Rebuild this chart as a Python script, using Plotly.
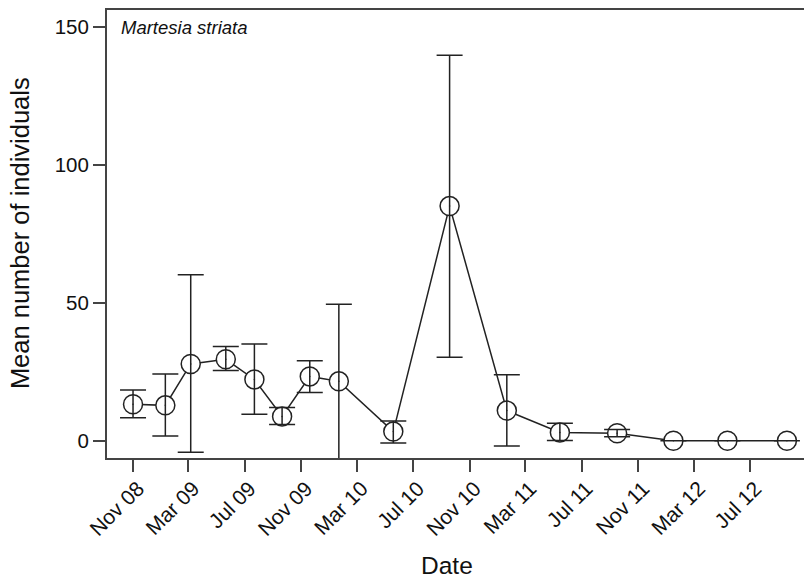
import plotly.graph_objects as go

dates = ["2008-11-01", "2009-01-10", "2009-03-06", "2009-05-21", "2009-07-22",
         "2009-09-20", "2009-11-19", "2010-01-21", "2010-05-19", "2010-09-18",
         "2011-01-20", "2011-05-15", "2011-09-16", "2012-01-16", "2012-05-12",
         "2012-09-18"]
means = [13.2, 12.8, 27.8, 29.5, 22.2, 8.8, 23.3, 21.5, 3.3, 85.0,
         10.9, 3.0, 2.7, 0.0, 0.0, 0.0]
upper = [18.4, 24.2, 60.1, 34.1, 35.0, 12.0, 29.0, 49.4, 7.1, 139.7,
         23.9, 6.3, 4.1, 0.0, 0.0, 0.0]
lower = [8.3, 1.7, -4.2, 25.4, 9.6, 5.9, 17.5, -9.0, -0.8, 30.2,
         -1.9, 0.1, 1.4, 0.0, 0.0, 0.0]

tick_dates = ["2008-11-01", "2009-03-01", "2009-07-01", "2009-11-01", "2010-03-01",
              "2010-07-01", "2010-11-01", "2011-03-01", "2011-07-01", "2011-11-01",
              "2012-03-01", "2012-07-01"]
tick_labels = ["Nov 08", "Mar 09", "Jul 09", "Nov 09", "Mar 10", "Jul 10",
               "Nov 10", "Mar 11", "Jul 11", "Nov 11", "Mar 12", "Jul 12"]

err_plus = [u - m for u, m in zip(upper, means)]
err_minus = [m - l for m, l in zip(means, lower)]

ink = "#222222"
font = "Liberation Sans, Arial, Helvetica, sans-serif"

fig = go.Figure()
# line + white-filled open circles
fig.add_trace(go.Scatter(
    x=dates, y=means, mode="lines+markers",
    line=dict(color=ink, width=1.5),
    marker=dict(symbol="circle", size=19, color="white",
                line=dict(color=ink, width=1.5)),
    showlegend=False, hoverinfo="skip"))
# error bars on top
fig.add_trace(go.Scatter(
    x=dates, y=means, mode="markers",
    marker=dict(size=1.5, color=ink, opacity=1),
    error_y=dict(type="data", symmetric=False, array=err_plus,
                 arrayminus=err_minus, color=ink, thickness=1.5, width=13),
    showlegend=False, hoverinfo="skip"))

fig.add_annotation(text="<i>Martesia striata</i>", xref="paper", yref="paper",
                   x=0.017, y=0.988, xanchor="left", yanchor="top",
                   showarrow=False, font=dict(family=font, size=18.5, color="#111"))
fig.add_annotation(text="Date", xref="paper", yref="paper",
                   x=0.4878, y=-0.241, xanchor="center", yanchor="middle",
                   showarrow=False, font=dict(family=font, size=24.5, color="#111"))
fig.add_annotation(text="Mean number of individuals", xref="paper", yref="paper",
                   x=-0.1248, y=0.502, xanchor="center", yanchor="middle",
                   textangle=-90,
                   showarrow=False, font=dict(family=font, size=25.5, color="#111"))

fig.update_layout(
    width=804, height=579,
    margin=dict(l=107, r=0, t=10, b=121),
    paper_bgcolor="white", plot_bgcolor="white",
    font=dict(family=font, color="#111"),
    xaxis=dict(
        type="date",
        range=["2008-09-05 14:00", "2012-10-25"],
        tickmode="array", tickvals=tick_dates, ticktext=tick_labels,
        tickangle=-45, tickfont=dict(size=21, family=font, color="#111"),
        ticklabelshift=5, ticklabelstandoff=-4,
        ticks="outside", ticklen=12, tickwidth=1.5, tickcolor="#444",
        showline=True, linecolor="#444", linewidth=2, mirror=True,
        showgrid=False, zeroline=False,
    ),
    yaxis=dict(
        range=[-6.27, 156.05],
        tickvals=[0, 50, 100, 150],
        tickfont=dict(size=20.5, family=font, color="#111"),
        ticks="outside", ticklen=12, tickwidth=1.5, tickcolor="#444",
        showline=True, linecolor="#444", linewidth=2,
        showgrid=False, zeroline=False,
    ),
)

fig.write_html("out.html")
